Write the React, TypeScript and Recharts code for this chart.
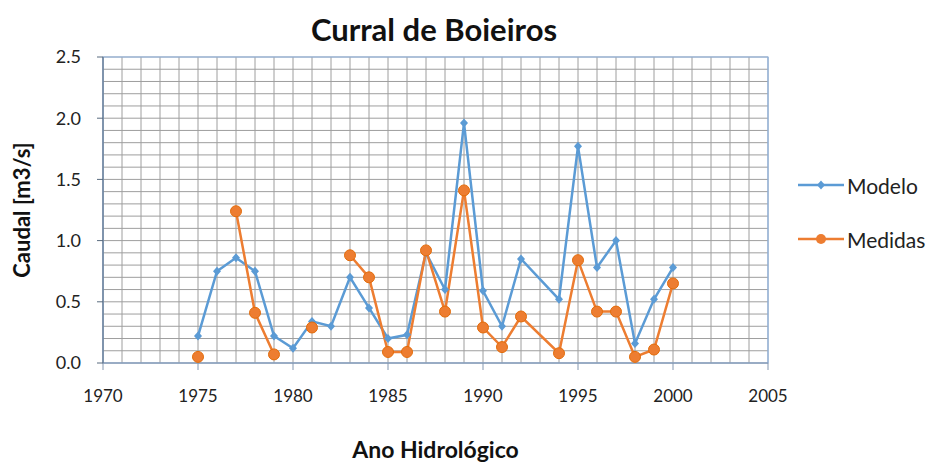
import { LineChart, Line, XAxis, YAxis, CartesianGrid, ReferenceArea } from "recharts"

const years = [1975, 1976, 1977, 1978, 1979, 1980, 1981, 1982, 1983, 1984, 1985, 1986, 1987, 1988, 1989, 1990, 1991, 1992, 1994, 1995, 1996, 1997, 1998, 1999, 2000]
const modelo = [0.22, 0.75, 0.86, 0.75, 0.22, 0.12, 0.34, 0.3, 0.7, 0.45, 0.2, 0.23, 0.9, 0.6, 1.96, 0.59, 0.3, 0.85, 0.52, 1.77, 0.78, 1.0, 0.16, 0.52, 0.78]
const medidas = [0.05, null, 1.24, 0.41, 0.07, null, 0.29, null, 0.88, 0.7, 0.09, 0.09, 0.92, 0.42, 1.41, 0.29, 0.13, 0.38, 0.08, 0.84, 0.42, 0.42, 0.05, 0.11, 0.65]

const xDomain = [1970, 2005]
const yDomain = [0, 2.5]
const xTicks = [1970, 1975, 1980, 1985, 1990, 1995, 2000, 2005]
const yTicks = [0, 0.5, 1, 1.5, 2, 2.5]
const xGridTicks = [1970, 1971, 1972, 1973, 1974, 1975, 1976, 1977, 1978, 1979, 1980, 1981, 1982, 1983, 1984, 1985, 1986, 1987, 1988, 1989, 1990, 1991, 1992, 1993, 1994, 1995, 1996, 1997, 1998, 1999, 2000, 2001, 2002, 2003, 2004, 2005]
const yGridTicks = [0, 0.1, 0.2, 0.3, 0.4, 0.5, 0.6, 0.7, 0.8, 0.9, 1, 1.1, 1.2, 1.3, 1.4, 1.5, 1.6, 1.7, 1.8, 1.9, 2, 2.1, 2.2, 2.3, 2.4, 2.5]

const data = years.map((y, i) => ({ ano: y, modelo: modelo[i], medidas: medidas[i] }))

const BLUE = "#5b9bd5"
const ORANGE = "#ed7d31"
const FONT = "Lato, 'Open Sans', sans-serif"

const Diamond = (props: any) => {
  const { cx, cy } = props
  if (cx == null || cy == null) return null
  return <polygon points={`${cx},${cy - 4.5} ${cx + 4},${cy} ${cx},${cy + 4.5} ${cx - 4},${cy}`} fill={BLUE} />
}

// grid every year / every 0.1, placed with the axis scale when available
const vGrid = ({ xAxis, offset }: any) =>
  xGridTicks.map((t) =>
    typeof xAxis?.scale === "function"
      ? xAxis.scale(t)
      : offset.left + ((t - xDomain[0]) / (xDomain[1] - xDomain[0])) * offset.width
  )
const hGrid = ({ yAxis, offset }: any) =>
  yGridTicks.map((t) =>
    typeof yAxis?.scale === "function"
      ? yAxis.scale(t)
      : offset.top + (1 - (t - yDomain[0]) / (yDomain[1] - yDomain[0])) * offset.height
  )

const LegendBox = () => (
  <div style={{ position: "absolute", left: 798, top: 171, fontFamily: FONT, fontSize: 21, color: "#222" }}>
    {[
      { name: "Modelo", color: BLUE, circle: false },
      { name: "Medidas", color: ORANGE, circle: true },
    ].map((e, i) => (
      <div key={e.name} style={{ display: "flex", alignItems: "center", height: 28, marginBottom: i === 0 ? 26 : 0 }}>
        <svg width={46} height={14}>
          <line x1={0} y1={7} x2={46} y2={7} stroke={e.color} strokeWidth={2.5} />
          {e.circle ? (
            <circle cx={23} cy={7} r={5} fill={e.color} />
          ) : (
            <polygon points="23,2.5 27,7 23,11.5 19,7" fill={e.color} />
          )}
        </svg>
        <span style={{ marginLeft: 3 }}>{e.name}</span>
      </div>
    ))}
  </div>
)

export default function App() {
  return (
    <div style={{ position: "absolute", left: 0, top: 0, width: 934, height: 465, background: "#fff" }}>
      <div
        style={{
          position: "absolute",
          left: 0,
          width: 868,
          top: 10,
          textAlign: "center",
          fontFamily: FONT,
          fontWeight: 700,
          fontSize: 31,
          color: "#111",
        }}
      >
        Curral de Boieiros
      </div>
      <LineChart width={934} height={465} data={data} margin={{ top: 57, right: 166, bottom: 67, left: 33 }}>
        <CartesianGrid stroke="#9e9e9e" strokeWidth={1} verticalCoordinatesGenerator={vGrid} horizontalCoordinatesGenerator={hGrid} />
        <ReferenceArea x1={1970} x2={2005} y1={0} y2={2.5} fill="none" stroke="#8eb4e3" strokeWidth={1.2} />
        <XAxis
          dataKey="ano"
          type="number"
          domain={xDomain}
          ticks={xTicks}
          interval={0}
          height={35}
          tickSize={7}
          tickMargin={20}
          stroke="#8497b0"
          tick={{ fill: "#222", fontSize: 17, fontFamily: FONT }}
          label={{ value: "Ano Hidrológico", position: "insideBottom", offset: -60, fill: "#111", fontSize: 23, fontWeight: 700, fontFamily: FONT }}
        />
        <YAxis
          type="number"
          domain={yDomain}
          ticks={yTicks}
          interval={0}
          width={70}
          tickSize={6}
          tickMargin={16}
          stroke="#596b7e"
          tickFormatter={(v: number) => v.toFixed(1)}
          tick={{ fill: "#222", fontSize: 18, fontFamily: FONT }}
          label={{ value: "Caudal [m3/s]", angle: -90, position: "insideLeft", offset: 0, dx: -11, fill: "#111", fontSize: 22, fontWeight: 700, fontFamily: FONT, style: { textAnchor: "middle" } }}
        />
        <Line dataKey="modelo" stroke={BLUE} strokeWidth={2.5} dot={<Diamond />} activeDot={false} isAnimationActive={false} connectNulls={false} />
        <Line dataKey="medidas" stroke={ORANGE} strokeWidth={2.5} dot={{ r: 5.5, fill: ORANGE, stroke: "#e36c0a", strokeWidth: 1 }} activeDot={false} isAnimationActive={false} connectNulls={false} />
      </LineChart>
      <LegendBox />
    </div>
  )
}
